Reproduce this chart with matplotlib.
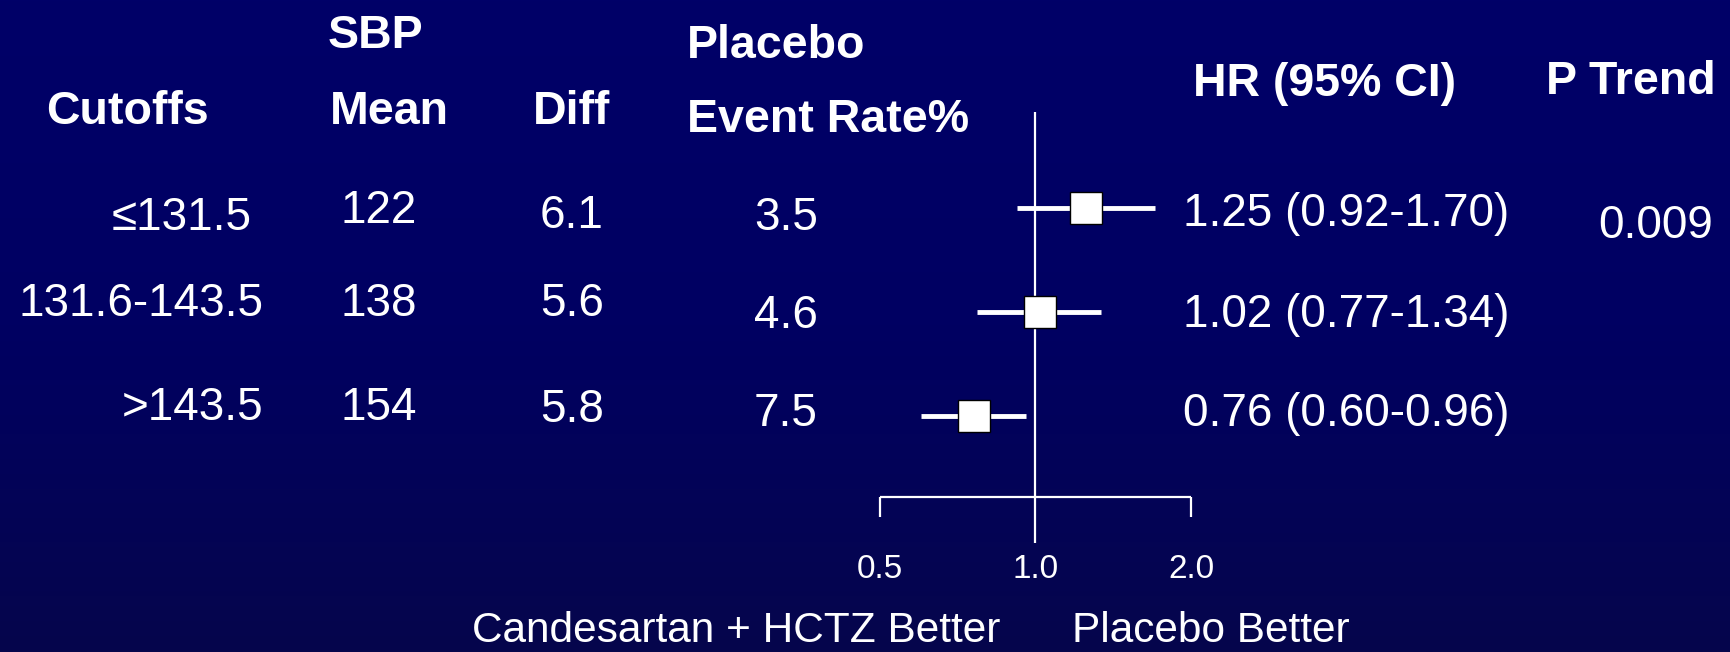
import numpy as np
import matplotlib
matplotlib.use("Agg")
import matplotlib.pyplot as plt
from matplotlib.colors import LinearSegmentedColormap

# ---- data ----
cutoffs = ["\u2264131.5", "131.6-143.5", ">143.5"]
sbp_mean = ["122", "138", "154"]
diff = ["6.1", "5.6", "5.8"]
placebo_rate = ["3.5", "4.6", "7.5"]
hr = [1.25, 1.02, 0.76]
ci_low = [0.92, 0.77, 0.60]
ci_high = [1.70, 1.34, 0.96]
hr_labels = ["1.25 (0.92-1.70)", "1.02 (0.77-1.34)", "0.76 (0.60-0.96)"]
p_trend = "0.009"
xticks = [0.5, 1.0, 2.0]
xtick_labels = ["0.5", "1.0", "2.0"]

plt.rcParams['font.family'] = ['Liberation Sans', 'DejaVu Sans']

W, H = 1731, 652
fig = plt.figure(figsize=(W / 100, H / 100), dpi=100)

# background gradient
bg = fig.add_axes([0, 0, 1, 1], zorder=0)
cmap = LinearSegmentedColormap.from_list("bg", ["#000068", "#000062", "#06064c"])
grad = np.linspace(0, 1, 256).reshape(-1, 1)
bg.imshow(grad, aspect="auto", cmap=cmap, extent=[0, 1, 0, 1], origin="upper")
bg.set_xlim(0, 1); bg.set_ylim(0, 1)
bg.axis("off")

OFF = 4.5  # vertical text offset (px)

def fx(px):
    return px / W

def fy(py):
    return 1 - (py + OFF) / H

WHITE = "white"
BFS = 33.5
NFS = 33

# headers
fig.text(fx(375), fy(31), "SBP", color=WHITE, fontsize=BFS, fontweight="bold", ha="center", va="center", zorder=5)
fig.text(fx(127), fy(107), "Cutoffs", color=WHITE, fontsize=BFS, fontweight="bold", ha="center", va="center", zorder=5)
fig.text(fx(389), fy(107), "Mean", color=WHITE, fontsize=BFS, fontweight="bold", ha="center", va="center", zorder=5)
fig.text(fx(572), fy(107), "Diff", color=WHITE, fontsize=BFS, fontweight="bold", ha="center", va="center", zorder=5)
fig.text(fx(687), fy(41), "Placebo", color=WHITE, fontsize=BFS, fontweight="bold", ha="left", va="center", zorder=5)
fig.text(fx(687), fy(115), "Event Rate%", color=WHITE, fontsize=BFS, fontweight="bold", ha="left", va="center", zorder=5)
fig.text(fx(1325), fy(79), "HR (95% CI)", color=WHITE, fontsize=BFS, fontweight="bold", ha="center", va="center", zorder=5)
fig.text(fx(1631), fy(77), "P Trend", color=WHITE, fontsize=BFS, fontweight="bold", ha="center", va="center", zorder=5)

# row texts (pixel positions of the layout)
cut_x = [252, 263, 263]
cut_y = [213, 300, 403]
mean_y = [206, 300, 403]
diff_y = [212, 300, 406]
rate_y = [214, 312, 410]
hr_y = [210, 310, 410]
for i in range(3):
    fig.text(fx(cut_x[i]), fy(cut_y[i]), cutoffs[i], color=WHITE, fontsize=NFS, ha="right", va="center", zorder=5)
    fig.text(fx(379), fy(mean_y[i]), sbp_mean[i], color=WHITE, fontsize=NFS, ha="center", va="center", zorder=5)
    fig.text(fx(572), fy(diff_y[i]), diff[i], color=WHITE, fontsize=NFS, ha="center", va="center", zorder=5)
    fig.text(fx(786), fy(rate_y[i]), placebo_rate[i], color=WHITE, fontsize=NFS, ha="center", va="center", zorder=5)
    fig.text(fx(1183), fy(hr_y[i]), hr_labels[i], color=WHITE, fontsize=NFS, ha="left", va="center", zorder=5)
fig.text(fx(1656), fy(221), p_trend, color=WHITE, fontsize=NFS, ha="center", va="center", zorder=5)

# forest axes: x 0.5->880px, 2.0->1191px ; y rows 1,2,3 at 208,312,416 px
top_px, bot_px = 112, 543
ax = fig.add_axes([880 / W, 1 - bot_px / H, (1191 - 880) / W, (bot_px - top_px) / H], zorder=3)
ax.set_xscale("log")
ax.set_xlim(0.5, 2.0)
y_top = 1 + (top_px - 208) / 104
y_bot = 1 + (bot_px - 208) / 104
ax.set_ylim(y_bot, y_top)
ax.patch.set_alpha(0)
for s in ax.spines.values():
    s.set_visible(False)
ax.set_xticks([]); ax.set_yticks([])
ax.minorticks_off()

rows = np.arange(1, len(hr) + 1)
ax.axvline(1.0, color=WHITE, lw=1.6, zorder=2)
ax.hlines(rows, ci_low, ci_high, color=WHITE, lw=3.5, zorder=3)
ax.plot(hr, rows, linestyle="none", marker="s", markersize=23, markerfacecolor=WHITE,
        markeredgecolor="black", markeredgewidth=1.0, zorder=4)

axis_y = 1 + (497 - 208) / 104
tick_y = 1 + (517 - 208) / 104
ax.hlines(axis_y, xticks[0], xticks[-1], color=WHITE, lw=1.6, clip_on=False)
ax.vlines([xticks[0], xticks[-1]], axis_y, tick_y, color=WHITE, lw=1.6, clip_on=False)
label_y = 1 + (570 - 208) / 104
for xv, lab in zip(xticks, xtick_labels):
    ax.text(xv, label_y, lab, color=WHITE, fontsize=24, ha="center", va="center", clip_on=False)

base_y = 1 - 642 / H
fig.text(fx(736), base_y, "Candesartan + HCTZ Better", color=WHITE, fontsize=30.5, ha="center", va="baseline", zorder=5)
fig.text(fx(1211), base_y, "Placebo Better", color=WHITE, fontsize=30.5, ha="center", va="baseline", zorder=5)

fig.savefig("out.png", dpi=100, facecolor="#000066")
